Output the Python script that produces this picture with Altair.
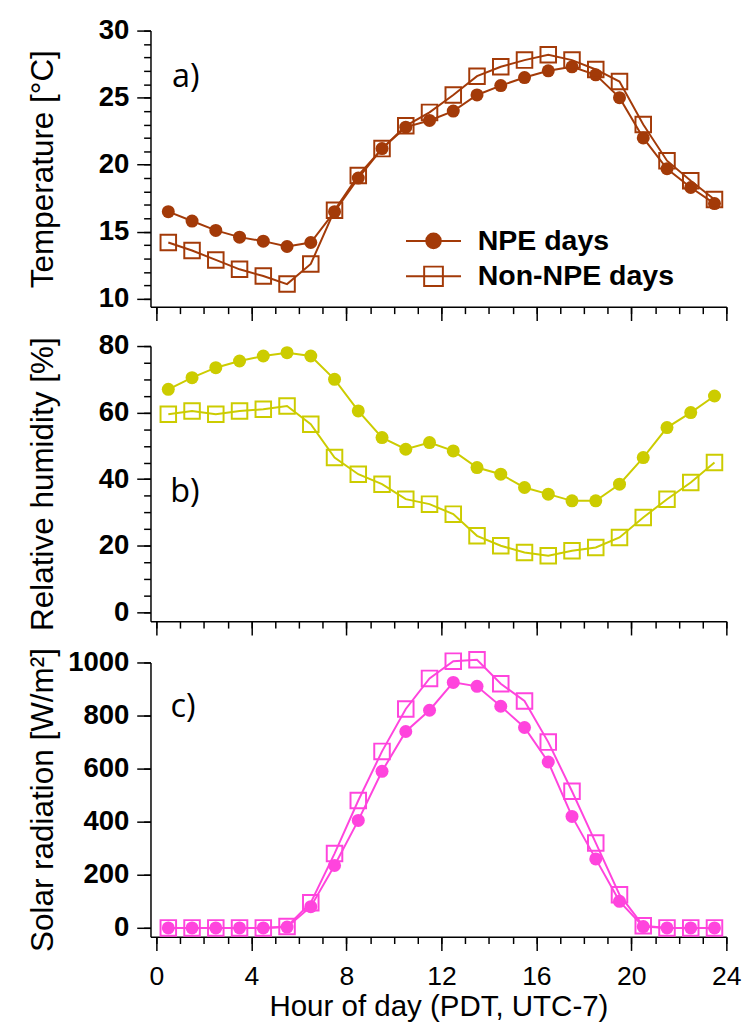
import altair as alt
import pandas as pd

hours = [0.5 + i for i in range(24)]
series_names = ["NPE days", "Non-NPE days"]

temp_npe = [16.5, 15.8, 15.1, 14.6, 14.3, 13.9, 14.2, 16.5, 19.0, 21.2, 22.8, 23.3,
            24.0, 25.2, 25.9, 26.5, 27.0, 27.3, 26.7, 25.0, 22.0, 19.7, 18.3, 17.1]
temp_non = [14.2, 13.6, 12.9, 12.2, 11.7, 11.1, 12.6, 16.6, 19.2, 21.2, 22.9, 23.9,
            25.2, 26.6, 27.3, 27.8, 28.2, 27.8, 27.1, 26.2, 23.0, 20.3, 18.8, 17.4]
rh_npe = [67, 70.5, 73.5, 75.5, 77, 78, 77, 70, 60.5, 52.5, 49, 51,
          48.5, 43.5, 41.5, 37.5, 35.5, 33.5, 33.5, 38.5, 46.5, 55.5, 60, 65]
rh_non = [59.5, 60.5, 59.5, 60.5, 61, 62, 56.5, 46.5, 41.5, 38.5, 34, 32.5,
          29.5, 23, 20, 18, 17, 18.5, 19.5, 22.5, 28.5, 34, 39, 45]
sr_npe = [0, 0, 0, 0, 0, 3, 80, 235, 405, 590, 740, 820,
          925, 910, 835, 755, 625, 420, 260, 100, 5, 0, 0, 0]
sr_non = [0, 0, 0, 0, 0, 5, 95, 280, 480, 665, 825, 940,
          1005, 1010, 920, 855, 700, 515, 320, 125, 8, 0, 0, 0]

x_major = [0, 4, 8, 12, 16, 20, 24]
x_minor = list(range(0, 25))
temp_major = [10, 15, 20, 25, 30]
temp_minor = list(range(10, 31))
rh_major = [0, 20, 40, 60, 80]
rh_minor = list(range(0, 81, 5))
sr_major = [0, 200, 400, 600, 800, 1000]

BROWN = "#a33a08"
YELLOW = "#cccc00"
MAGENTA = "#ff44dd"

W = 586
LABEL_FONT = "Liberation Sans"


def make_df(a, b):
    return pd.DataFrame({
        "hour": hours + hours,
        "value": a + b,
        "series": [series_names[0]] * 24 + [series_names[1]] * 24,
    })


def ring(r):
    return f"M{r},0A{r},{r},0,1,1,{-r},0A{r},{r},0,1,1,{r},0Z"


def panel(a, b, color, ydom, ymaj, ymin, ytitle, plabel, lab_xy, h, last, legend=False):
    df = make_df(a, b)
    base = alt.Chart(df)
    xs = alt.Scale(domain=[-0.25, 24], nice=False, zero=False)
    ys = alt.Scale(domain=ydom, nice=False, zero=False)
    xmaj_axis = alt.Axis(values=x_major, tickSize=14, tickWidth=1.5, domainWidth=1.5,
                         domainColor="black", tickColor="black", grid=False,
                         labels=last, labelFont=LABEL_FONT, labelFontSize=27,
                         labelColor="black", labelPadding=14, labelFlush=False,
                         title="Hour of day (PDT, UTC-7)" if last else None,
                         titleFont=LABEL_FONT, titleFontSize=30, titleFontWeight="normal",
                         titleColor="black", titlePadding=2, orient="bottom")
    xmin_axis = alt.Axis(values=x_minor, tickSize=7, tickWidth=1.5, tickColor="black",
                         domain=False, labels=False, grid=False, title=None, orient="bottom")
    ymaj_axis = alt.Axis(values=ymaj, format="d", tickSize=14, tickWidth=1.5, domainWidth=1.5,
                         domainColor="black", tickColor="black", grid=False,
                         labelFont=LABEL_FONT, labelFontSize=28, labelFontWeight="bold",
                         labelColor="black", labelPadding=8, labelFlush=False,
                         title=ytitle, titleFont=LABEL_FONT, titleFontSize=32,
                         titleFontWeight="normal", titleColor="black",
                         titleX=-93, titleY=h / 2, titleAngle=270, titleAlign="center",
                         titleBaseline="bottom", orient="left")
    ymin_axis = alt.Axis(values=ymin, tickSize=7, tickWidth=1.5, tickColor="black",
                         domain=False, labels=False, grid=False, title=None, orient="left")

    line = base.mark_line(color=color, strokeWidth=2).encode(
        x=alt.X("hour:Q", scale=xs, axis=xmaj_axis),
        y=alt.Y("value:Q", scale=ys, axis=ymaj_axis),
        detail="series:N",
    )
    pts_a = base.transform_filter(alt.datum.series == series_names[0]).mark_point(
        shape="circle", filled=True, size=175, color=color, opacity=1).encode(
        x=alt.X("hour:Q", scale=xs, axis=xmin_axis),
        y=alt.Y("value:Q", scale=ys, axis=ymin_axis),
    )
    pts_b = base.transform_filter(alt.datum.series == series_names[1]).mark_point(
        shape="square", filled=False, size=250, color=color, strokeWidth=2, opacity=1).encode(
        x=alt.X("hour:Q", scale=xs, axis=None),
        y=alt.Y("value:Q", scale=ys, axis=None),
    )
    lab = alt.Chart(pd.DataFrame({"t": [plabel]})).mark_text(
        font="Open Sans", fontSize=33, color="black").encode(
        text="t:N", x=alt.value(lab_xy[0]), y=alt.value(lab_xy[1]))
    layers = [line, pts_a, pts_b, lab]
    if legend:
        circ = "M-2,0H2" + "".join(ring(r) for r in [0.07, 0.19, 0.3, 0.41, 0.53])
        sq = "M-2,0H2M-0.68,-0.7H0.68V0.7H-0.68Z"
        leg_cfg = alt.Legend(title=None, orient="none", legendX=273, legendY=199,
                             symbolSize=784, symbolStrokeWidth=2, symbolStrokeColor=color,
                             symbolFillColor="transparent",
                             symbolOpacity=1, labelFont=LABEL_FONT, labelFontSize=29,
                             labelFontWeight="bold", labelColor="black", labelOffset=30,
                             rowPadding=6, labelLimit=400)
        leg = base.mark_point(opacity=0, filled=False, color=color, strokeWidth=2).encode(
            x=alt.X("hour:Q", scale=xs, axis=None),
            y=alt.Y("value:Q", scale=ys, axis=None),
            shape=alt.Shape("series:N", scale=alt.Scale(domain=series_names, range=[circ, sq]),
                            legend=leg_cfg),
        )
        layers.append(leg)
    return alt.layer(*layers).resolve_axis(x="independent", y="independent").properties(
        width=W, height=h)


pa = panel(temp_npe, temp_non, BROWN, [9.41, 30], temp_major, temp_minor,
           "Temperature [°C]", "a)", (36, 47), 281, False, legend=True)
pb = panel(rh_npe, rh_non, YELLOW, [-2.66, 80], rh_major, rh_minor,
           "Relative humidity [%]", "b)", (35, 149), 280, False)
pc = panel(sr_npe, sr_non, MAGENTA, [-33, 1000], sr_major, sr_major,
           "Solar radiation [W/m²]", "c)", (33, 45), 279, True)

chart = alt.vconcat(pa, pb, pc, spacing=11).properties(
    padding={"left": 18, "top": 0, "right": 5, "bottom": 0}
).configure_view(stroke=None)

chart.save("out.html", embed_options={"renderer": "svg", "actions": False})
